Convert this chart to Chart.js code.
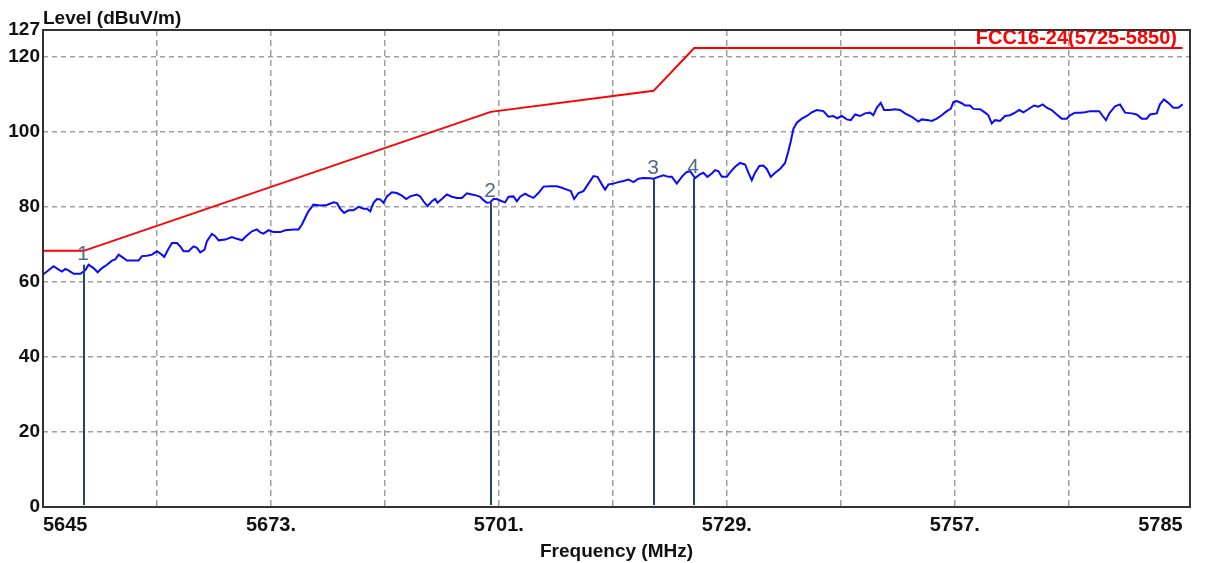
<!DOCTYPE html>
<html>
<head>
<meta charset="utf-8">
<title>Level vs Frequency</title>
<script src="https://cdn.jsdelivr.net/npm/chart.js@4.4.1/dist/chart.umd.min.js"></script>
<style>
  html, body { margin: 0; padding: 0; background: #fff; }
  #wrap { width: 1208px; height: 563px; }
</style>
</head>
<body>
<div id="wrap"><canvas id="chart" width="1208" height="563"></canvas></div>
<script>
// measured peak trace, MHz / dBuV/m
const traceFreq = [
  5645.00, 5645.49, 5646.30, 5646.92, 5647.33, 5647.74, 5648.14, 5648.76, 5649.58, 5650.19,
  5650.60, 5651.21, 5651.71, 5652.25, 5652.86, 5653.47, 5653.88, 5654.28, 5654.70, 5655.32,
  5655.93, 5656.74, 5657.16, 5657.77, 5658.39, 5659.00, 5659.41, 5659.90, 5660.35, 5660.84,
  5661.46, 5661.86, 5662.27, 5662.88, 5663.49, 5663.91, 5664.32, 5664.85, 5665.14, 5665.75,
  5666.16, 5666.57, 5667.39, 5668.21, 5668.82, 5669.44, 5670.05, 5670.67, 5671.28, 5671.69,
  5672.09, 5672.71, 5673.32, 5674.14, 5674.76, 5675.78, 5676.39, 5676.81, 5677.21, 5677.62,
  5678.23, 5679.05, 5679.87, 5680.69, 5681.11, 5681.51, 5682.00, 5682.53, 5683.14, 5683.76,
  5684.37, 5684.79, 5685.20, 5685.60, 5686.02, 5686.42, 5686.83, 5687.25, 5687.86, 5688.47,
  5689.09, 5689.62, 5690.11, 5690.93, 5691.34, 5691.74, 5692.23, 5692.77, 5693.18, 5693.46,
  5694.00, 5694.61, 5695.23, 5695.84, 5696.46, 5697.07, 5697.68, 5698.30, 5698.70, 5699.11,
  5699.53, 5699.93, 5700.34, 5700.75, 5701.37, 5701.77, 5702.18, 5702.79, 5703.21, 5703.62,
  5704.23, 5704.64, 5705.25, 5705.86, 5706.48, 5707.30, 5708.12, 5708.74, 5709.35, 5709.84,
  5710.25, 5710.78, 5711.39, 5712.00, 5712.62, 5713.11, 5713.65, 5714.05, 5714.46, 5715.07,
  5715.69, 5716.30, 5716.92, 5717.53, 5718.14, 5718.76, 5719.58, 5719.99, 5720.60, 5721.22,
  5721.83, 5722.25, 5722.86, 5723.47, 5724.00, 5724.49, 5725.11, 5725.64, 5726.13, 5726.62,
  5727.16, 5727.56, 5727.97, 5728.39, 5729.00, 5729.41, 5730.02, 5730.63, 5731.25, 5731.65,
  5732.07, 5732.47, 5733.00, 5733.49, 5733.91, 5734.40, 5734.93, 5735.54, 5736.16, 5736.56,
  5736.86, 5737.18, 5737.60, 5738.21, 5738.83, 5739.44, 5740.05, 5740.86, 5741.48, 5742.09,
  5742.58, 5743.12, 5743.74, 5744.23, 5744.76, 5745.37, 5745.98, 5746.60, 5747.00, 5747.42,
  5747.91, 5748.32, 5749.05, 5749.67, 5750.28, 5750.89, 5751.72, 5752.53, 5752.95, 5753.76,
  5754.18, 5754.79, 5755.40, 5756.02, 5756.51, 5756.83, 5757.25, 5757.86, 5758.27, 5758.88,
  5759.29, 5760.11, 5760.73, 5761.13, 5761.55, 5761.95, 5762.56, 5763.18, 5763.79, 5764.41,
  5764.93, 5765.43, 5766.04, 5766.74, 5767.27, 5767.81, 5768.30, 5768.91, 5769.53, 5770.14,
  5770.76, 5771.16, 5771.78, 5772.39, 5773.01, 5773.62, 5774.23, 5774.76, 5775.18, 5775.58,
  5775.99, 5776.69, 5777.30, 5777.92, 5778.74, 5779.35, 5779.97, 5780.58, 5780.98, 5781.81,
  5782.21, 5782.70, 5783.23, 5783.85, 5784.46, 5785.00
];
const traceLevel = [
  61.9, 62.7, 64.1, 63.2, 62.7, 63.4, 63.0, 62.1, 62.1, 63.0,
  64.5, 63.6, 62.5, 63.6, 64.5, 65.6, 65.9, 67.2, 66.6, 65.6,
  65.6, 65.6, 66.8, 66.9, 67.2, 68.1, 67.5, 66.6, 68.5, 70.3,
  70.3, 69.4, 68.1, 68.1, 69.4, 69.0, 67.8, 68.5, 70.8, 72.7,
  72.1, 71.0, 71.2, 71.9, 71.4, 71.0, 72.3, 73.4, 73.9, 73.1,
  72.8, 73.7, 73.2, 73.2, 73.7, 73.9, 73.9, 75.2, 77.0, 78.8,
  80.5, 80.3, 80.4, 81.1, 80.9, 79.4, 78.3, 79.0, 79.0, 79.9,
  79.4, 79.4, 78.7, 81.0, 82.0, 81.9, 81.0, 82.7, 83.8, 83.6,
  82.9, 82.0, 82.7, 83.2, 82.7, 81.4, 80.1, 81.4, 82.0, 81.0,
  82.0, 83.2, 82.6, 82.3, 82.3, 83.5, 83.2, 82.9, 82.6, 81.7,
  81.0, 81.1, 82.0, 82.0, 81.4, 81.1, 82.6, 82.7, 81.4, 82.6,
  83.4, 82.9, 82.3, 83.6, 85.3, 85.4, 85.4, 85.0, 84.5, 84.1,
  82.0, 83.6, 84.1, 86.1, 88.1, 87.9, 85.9, 84.5, 85.9, 86.1,
  86.5, 86.8, 87.2, 86.5, 87.4, 87.6, 87.5, 87.4, 87.9, 88.3,
  87.9, 87.9, 86.1, 87.9, 89.1, 89.4, 87.6, 88.5, 89.0, 87.9,
  88.8, 89.7, 89.4, 87.9, 87.9, 89.1, 90.6, 91.6, 91.2, 89.0,
  87.0, 89.0, 90.8, 90.9, 90.0, 87.9, 89.0, 90.0, 91.6, 94.7,
  97.4, 100.7, 102.3, 103.4, 104.1, 105.1, 105.7, 105.4, 103.9, 104.1,
  103.5, 104.1, 103.2, 103.0, 104.5, 104.1, 104.8, 105.0, 104.3, 106.3,
  107.6, 105.7, 105.7, 105.9, 105.7, 104.8, 103.9, 102.6, 103.2, 103.0,
  102.8, 103.4, 104.3, 105.4, 106.0, 107.8, 108.1, 107.5, 106.9, 106.9,
  106.0, 105.9, 105.0, 104.3, 102.1, 103.0, 102.8, 104.1, 104.3, 105.0,
  105.7, 105.1, 105.9, 106.9, 106.6, 107.2, 106.3, 105.7, 104.5, 103.4,
  103.4, 104.3, 105.0, 105.0, 105.1, 105.4, 105.4, 105.4, 104.1, 103.0,
  104.8, 106.7, 107.2, 105.0, 104.8, 104.5, 103.4, 103.4, 104.5, 104.8,
  107.2, 108.5, 107.6, 106.3, 106.3, 107.2
];

// FCC 15.407 band-edge limit line
const limitFreq = [5645, 5650, 5700, 5720, 5725, 5785];
const limitLevel = [68.2, 68.2, 105.2, 110.8, 122.2, 122.2];
const limitName = "FCC16-24(5725-5850)";

// markers
const markerFreq = [5650, 5700, 5720, 5725];
const markerLevel = [64.5, 81.1, 87.4, 87.6];
const markerNames = ["1", "2", "3", "4"];

// axis ticks
const freqTicks = [5645, 5659, 5673, 5687, 5701, 5715, 5729, 5743, 5757, 5771, 5785];
const freqTickLabels = ["5645", "", "5673.", "", "5701.", "", "5729.", "", "5757.", "", "5785"];
const levelTicks = [0, 20, 40, 60, 80, 100, 120, 127];

const FONT = "'Liberation Sans', Arial, sans-serif";
Chart.defaults.font.family = FONT;

const gridColor = "#a0a0a0";

const decorations = {
  id: "decorations",
  afterDatasetsDraw(chart) {
    const { ctx, scales: { x, y } } = chart;
    ctx.save();
    // marker lines and their numbers
    markerFreq.forEach((f, i) => {
      const px = Math.round(x.getPixelForValue(f));
      const top = y.getPixelForValue(markerLevel[i]);
      ctx.strokeStyle = "#23456d";
      ctx.lineWidth = 2;
      ctx.beginPath();
      ctx.moveTo(px, y.getPixelForValue(0) - 2);
      ctx.lineTo(px, top);
      ctx.stroke();
      ctx.fillStyle = "#4e6a88";
      ctx.font = "21px " + FONT;
      ctx.textAlign = "center";
      ctx.textBaseline = "alphabetic";
      ctx.fillText(markerNames[i], px - 1, top - 5);
    });
    ctx.restore();
  },
  afterDraw(chart) {
    const { ctx, chartArea: a } = chart;
    ctx.save();
    // limit name, top right
    ctx.fillStyle = "#ff0000";
    ctx.font = "bold 20px " + FONT;
    ctx.textAlign = "right";
    ctx.textBaseline = "alphabetic";
    ctx.fillText(limitName, a.right - 13, a.top + 13.5);
    // y axis caption
    ctx.fillStyle = "#111";
    ctx.font = "bold 19px " + FONT;
    ctx.textAlign = "left";
    ctx.fillText("Level (dBuV/m)", a.left, 24);
    // frame
    ctx.setLineDash([]);
    ctx.strokeStyle = "#333";
    ctx.lineWidth = 2;
    ctx.strokeRect(a.left, a.top, a.right - a.left, a.bottom - a.top);
    ctx.restore();
  }
};

new Chart(document.getElementById("chart"), {
  type: "line",
  data: {
    datasets: [
      {
        label: "Trace",
        data: traceFreq.map((f, i) => ({ x: f, y: traceLevel[i] })),
        borderColor: "#0a0aff",
        borderWidth: 2,
        pointRadius: 0,
        tension: 0
      },
      {
        label: limitName,
        data: limitFreq.map((f, i) => ({ x: f, y: limitLevel[i] })),
        borderColor: "#ff0000",
        borderWidth: 2,
        pointRadius: 0,
        tension: 0
      }
    ]
  },
  options: {
    responsive: false,
    animation: false,
    devicePixelRatio: 1,
    layout: { padding: { top: 30, right: 18, bottom: 0, left: 0 } },
    plugins: {
      legend: { display: false },
      tooltip: { enabled: false },
      title: { display: false }
    },
    scales: {
      x: {
        type: "linear",
        min: 5645,
        max: 5785.9,
        afterBuildTicks: (s) => { s.ticks = freqTicks.map(v => ({ value: v })); },
        afterFit: (s) => { s.height = 56; },
        ticks: {
          autoSkip: false,
          maxRotation: 0,
          align: "inner",
          padding: 6,
          color: "#111",
          font: { size: 20, weight: "bold" },
          callback: (v) => freqTickLabels[freqTicks.indexOf(v)]
        },
        grid: {
          drawTicks: false,
          lineWidth: 1.5,
          color: (c) => (c.index === 0 || c.index === freqTicks.length - 1) ? "rgba(0,0,0,0)" : gridColor
        },
        border: { display: false, dash: [6, 4] },
        title: {
          display: true,
          text: "Frequency (MHz)",
          color: "#111",
          font: { size: 19, weight: "bold", lineHeight: 1.2 },
          padding: { top: 0, bottom: 0 }
        }
      },
      y: {
        min: 0,
        max: 127,
        afterBuildTicks: (s) => { s.ticks = levelTicks.map(v => ({ value: v })); },
        afterFit: (s) => { s.width = 43; },
        ticks: {
          autoSkip: false,
          padding: 3,
          color: "#111",
          font: { size: 19, weight: "bold" },
          callback: (v) => String(v)
        },
        grid: {
          drawTicks: false,
          lineWidth: 1.5,
          color: (c) => (c.tick && (c.tick.value === 0 || c.tick.value === 127)) ? "rgba(0,0,0,0)" : gridColor
        },
        border: { display: false, dash: [5, 4] }
      }
    }
  },
  plugins: [decorations]
});
</script>
</body>
</html>
